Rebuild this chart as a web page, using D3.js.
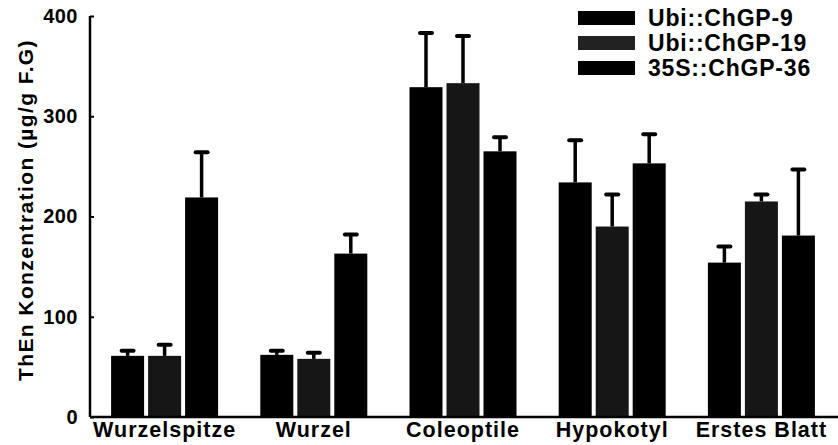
<!DOCTYPE html>
<html>
<head>
<meta charset="utf-8">
<script src="https://cdn.jsdelivr.net/npm/d3@7"></script>
<style>
  html, body { margin: 0; padding: 0; background: #fff; }
  svg { display: block; }
  text { font-family: "Liberation Sans", Arial, sans-serif; font-weight: bold; fill: #000; }
</style>
</head>
<body>
<svg id="chart" width="838" height="445"></svg>
<script>
// Tissue groups along the x axis
const tissues = ["Wurzelspitze", "Wurzel", "Coleoptile", "Hypokotyl", "Erstes Blatt"];
// Transgenic lines (one bar per line in each group)
const lines = ["Ubi::ChGP-9", "Ubi::ChGP-19", "35S::ChGP-36"];
// Mean ThEn concentration (µg/g F.G) per line, ordered like tissues
const ubi9  = [61, 62, 329, 234, 154];
const ubi19 = [61, 58, 333, 190, 215];
const s36   = [219, 163, 265, 253, 181];
// Upper standard deviation (added on top of each mean)
const ubi9Err  = [5, 4, 54, 42, 16];
const ubi19Err = [11, 6, 47, 32, 7];
const s36Err   = [45, 19, 14, 29, 66];
const yTicks = [0, 100, 200, 300, 400];

const series = [
  { name: lines[0], values: ubi9,  err: ubi9Err,  color: "#000000" },
  { name: lines[1], values: ubi19, err: ubi19Err, color: "#161616" },
  { name: lines[2], values: s36,   err: s36Err,   color: "#000000" }
];

const svg = d3.select("#chart");
const plotLeft = 90, plotRight = 836, plotTop = 16, plotBottom = 417;

const x0 = d3.scaleBand().domain(tissues).range([plotLeft, plotRight]).paddingInner(0).paddingOuter(0);
const y = d3.scaleLinear().domain([0, 400]).range([plotBottom, plotTop]);

const barStep = 37, barW = 33;
const offset = i => (i - 1) * barStep - barW / 2;
const barX = (t, i) => x0(t) + x0.bandwidth() / 2 + offset(i);

// Bars with upper error bars
series.forEach((s, i) => {
  const g = svg.append("g");
  g.selectAll("rect").data(tissues).join("rect")
    .attr("x", t => barX(t, i))
    .attr("y", (t, j) => y(s.values[j]))
    .attr("width", barW)
    .attr("height", (t, j) => y(0) - y(s.values[j]))
    .attr("fill", s.color);

  g.selectAll("line.err").data(tissues).join("line")
    .attr("class", "err")
    .attr("x1", t => barX(t, i) + barW / 2)
    .attr("x2", t => barX(t, i) + barW / 2)
    .attr("y1", (t, j) => y(s.values[j]))
    .attr("y2", (t, j) => y(s.values[j] + s.err[j]))
    .attr("stroke", "#000").attr("stroke-width", 3.5);
  g.selectAll("line.cap").data(tissues).join("line")
    .attr("class", "cap")
    .attr("x1", t => barX(t, i) + barW / 2 - 6)
    .attr("x2", t => barX(t, i) + barW / 2 + 6)
    .attr("y1", (t, j) => y(s.values[j] + s.err[j]))
    .attr("y2", (t, j) => y(s.values[j] + s.err[j]))
    .attr("stroke", "#000").attr("stroke-width", 4).attr("stroke-linecap", "round");
});

const labelFont = sel => sel
  .style("font-family", "'Liberation Sans', Arial, sans-serif")
  .style("font-weight", "bold").attr("fill", "#000");

// Y axis with inward ticks
const yAxis = svg.append("g")
  .attr("transform", `translate(${plotLeft},0)`)
  .call(d3.axisLeft(y).tickValues(yTicks).tickSize(-4).tickPadding(12).tickFormat(d3.format("d")));
yAxis.select(".domain").attr("stroke", "#000").attr("stroke-width", 2.5).attr("d", `M0,${plotTop}V${plotBottom}`);
yAxis.selectAll(".tick line").attr("stroke", "#000").attr("stroke-width", 2);
yAxis.selectAll(".tick text").call(labelFont)
  .style("font-size", "20px").style("letter-spacing", "0.5px");

// X axis: baseline and tissue labels
const xAxis = svg.append("g")
  .attr("transform", `translate(0,${plotBottom})`)
  .call(d3.axisBottom(x0).tickSize(0).tickPadding(5));
xAxis.select(".domain").attr("stroke", "#000").attr("stroke-width", 2.5).attr("d", `M${plotLeft},0H838`);
xAxis.selectAll(".tick text").call(labelFont)
  .style("font-size", "21.5px").style("letter-spacing", "1px");

// Y axis title
svg.append("text")
  .attr("transform", `translate(33,210) rotate(-90)`)
  .attr("text-anchor", "middle")
  .style("font-size", "21px")
  .style("letter-spacing", "1.4px")
  .text("ThEn Konzentration (µg/g F.G)");

// Legend
const legend = svg.append("g");
series.forEach((s, i) => {
  const cy = 18 + i * 25;
  legend.append("rect")
    .attr("x", 578).attr("y", cy - 7).attr("width", 57).attr("height", 14)
    .attr("fill", i === 1 ? "#222" : "#000");
  legend.append("text")
    .attr("x", 648).attr("y", cy).attr("dy", "0.35em")
    .style("font-size", "23px")
    .style("letter-spacing", "0.8px")
    .text(s.name);
});
</script>
</body>
</html>
